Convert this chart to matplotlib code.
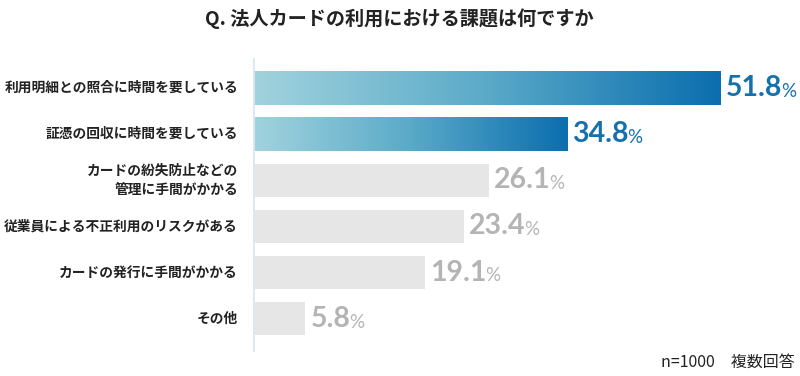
import matplotlib
matplotlib.use("Agg")
import matplotlib.pyplot as plt
import numpy as np
from matplotlib.colors import LinearSegmentedColormap

plt.rcParams['font.family'] = ['Noto Sans CJK JP', 'DejaVu Sans']

categories = ["利用明細との照合に時間を要している",
              "証憑の回収に時間を要している",
              "カードの紛失防止などの\n管理に手間がかかる",
              "従業員による不正利用のリスクがある",
              "カードの発行に手間がかかる",
              "その他"]
values = [51.8, 34.8, 26.1, 23.4, 19.1, 5.8]
highlight = [True, True, False, False, False, False]
title = "Q. 法人カードの利用における課題は何ですか"
note = "n=1000　複数回答"

W, H = 800, 376
fig = plt.figure(figsize=(W/100, H/100), dpi=100)
px = 9.03
left = 253
ax = fig.add_axes([left/W, (H-352)/H, (60*px)/W, (352-58)/H])
ax.set_xlim(0, 60)
ax.set_ylim(5.72, -0.65)
ax.axis('off')

cmap = LinearSegmentedColormap.from_list("g", ["#a2d3de", "#5aaac8", "#0b6eae"])
grad = np.linspace(0, 1, 256).reshape(1, -1)
bh = 0.72
for i, (v, hl) in enumerate(zip(values, highlight)):
    if hl:
        ax.imshow(grad, cmap=cmap, aspect='auto',
                  extent=(0, v, i + bh/2, i - bh/2), zorder=2, interpolation='bicubic')
        ax.barh(i, v, height=bh, color='none', edgecolor='none', zorder=1)
    else:
        ax.barh(i, v, height=bh, color='#e6e6e6', zorder=2)

ax.set_xlim(0, 60)
ax.set_ylim(5.72, -0.65)
ax.axvline(0, color='#dbe8ef', lw=2, zorder=3)

fig.canvas.draw()
r = fig.canvas.get_renderer()
for i, (v, hl) in enumerate(zip(values, highlight)):
    c = '#1570ad' if hl else '#b4b4b4'
    t = ax.text(v + 0.55, i, f"{v:.1f}", fontsize=20.5, fontweight='bold',
                family=['Lato', 'DejaVu Sans'], color=c, va='center', ha='left', zorder=4)
    bb = t.get_window_extent(renderer=r)
    x_end = ax.transData.inverted().transform((bb.x1, bb.y0))[0]
    ax.text(x_end - 0.15, i + 0.07, "%", fontsize=13.5, fontweight='normal',
            family=['Lato', 'DejaVu Sans'], color=c, va='center', ha='left', zorder=4)

for i, cat in enumerate(categories):
    ax.text(-(left - 238)/px, i, cat, fontsize=9.9, fontweight='bold', color='#222222',
            ha='right', va='center', linespacing=1.45)

fig.text(399/W, 1 - 19/H, title, fontsize=13.8, fontweight='bold', color='#222222',
         ha='center', va='center')
fig.text(795/W, 1 - 362/H, note, fontsize=11.5, color='#222222', ha='right', va='center')

fig.savefig("out.png", dpi=100, facecolor='white')
